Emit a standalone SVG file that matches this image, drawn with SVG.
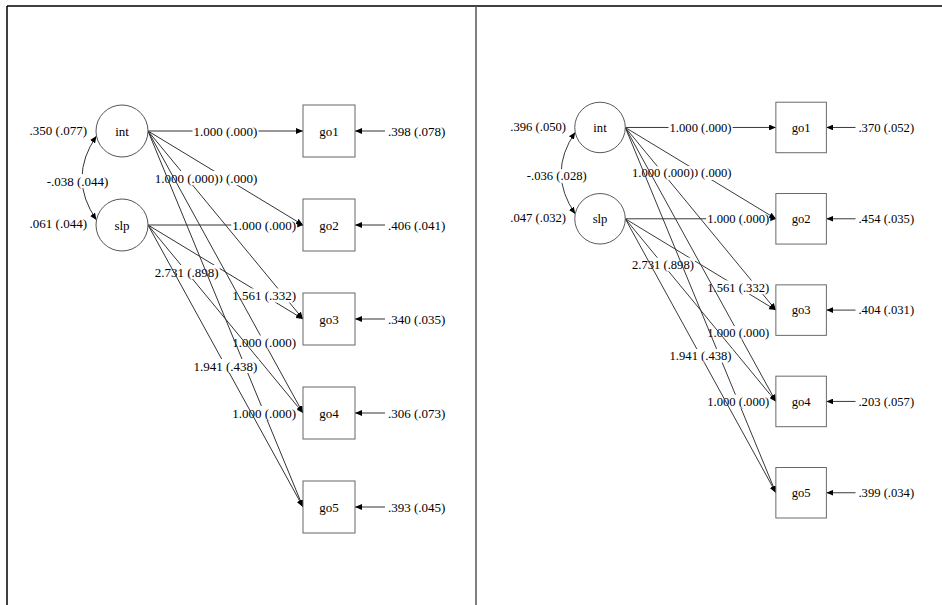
<svg xmlns="http://www.w3.org/2000/svg" width="942" height="605" viewBox="0 0 942 605">
<style>
text{font-family:"Liberation Serif","Times New Roman",serif;font-size:13px;fill:#000}
.m{text-anchor:middle}
.r{text-anchor:end}
.e{stroke:#333;stroke-width:1;fill:none;marker-end:url(#ah)}
.cv{stroke:#333;stroke-width:1;fill:none;marker-start:url(#ah2);marker-end:url(#ah2)}
.bg{fill:#fff}
.lat{fill:#fff;stroke:#555;stroke-width:1}
.obs{fill:#fff;stroke:#666;stroke-width:1}
.fr{stroke:#000;stroke-width:1.5;fill:none}
</style>
<defs>
<marker id="ah" markerUnits="userSpaceOnUse" markerWidth="8" markerHeight="6" refX="7" refY="3" orient="auto"><path d="M0,0 L7,3 L0,6 z" fill="#000"/></marker>
<marker id="ah2" markerUnits="userSpaceOnUse" markerWidth="8" markerHeight="6" refX="7" refY="3" orient="auto-start-reverse"><path d="M0,0 L7,3 L0,6 z" fill="#000"/></marker>
</defs>
<rect width="942" height="605" fill="#fff"/>
<g id="frame">
<line class="fr" x1="7" y1="6" x2="942" y2="6"/>
<line class="fr" x1="7" y1="6" x2="7" y2="605"/>
<line x1="476" y1="6" x2="476" y2="605" stroke="#555" stroke-width="1.5"/>
</g>

<g id="panel-left">
<g id="L-connectors">
<path class="cv" d="M96.5,136 Q67.5,178 96.5,220"/>
<rect class="bg" x="46" y="174" width="63" height="14"/>
<text class="m" x="77.5" y="185.5">-.038 (.044)</text>
<line class="e" x1="148" y1="131" x2="303" y2="131"/>
<rect class="bg" x="192.5" y="124" width="66" height="14"/><text class="m" x="225.5" y="135.5">1.000 (.000)</text>
<line class="e" x1="148" y1="225" x2="303" y2="225"/>
<rect class="bg" x="231.25" y="218" width="66" height="14"/><text class="m" x="264.25" y="229.5">1.000 (.000)</text>
<line class="e" x1="148" y1="131" x2="303" y2="225"/>
<rect class="bg" x="192.5" y="171" width="66" height="14"/><text class="m" x="225.5" y="182.5">1.000 (.000)</text>
<line class="e" x1="148" y1="131" x2="303" y2="319"/>
<rect class="bg" x="153.75" y="171" width="66" height="14"/><text class="m" x="186.75" y="182.5">1.000 (.000)</text>
<line class="e" x1="148" y1="225" x2="303" y2="319"/>
<rect class="bg" x="231.25" y="288.5" width="66" height="14"/><text class="m" x="264.25" y="300">1.561 (.332)</text>
<line class="e" x1="148" y1="131" x2="303" y2="413"/>
<rect class="bg" x="231.25" y="335.5" width="66" height="14"/><text class="m" x="264.25" y="347">1.000 (.000)</text>
<line class="e" x1="148" y1="225" x2="303" y2="413"/>
<rect class="bg" x="153.75" y="265" width="66" height="14"/><text class="m" x="186.75" y="276.5">2.731 (.898)</text>
<line class="e" x1="148" y1="131" x2="303" y2="507"/>
<rect class="bg" x="231.25" y="406" width="66" height="14"/><text class="m" x="264.25" y="417.5">1.000 (.000)</text>
<line class="e" x1="148" y1="225" x2="303" y2="507"/>
<rect class="bg" x="192.5" y="359" width="66" height="14"/><text class="m" x="225.5" y="370.5">1.941 (.438)</text>
<line class="e" x1="385" y1="131" x2="355" y2="131"/>
<line class="e" x1="385" y1="225" x2="355" y2="225"/>
<line class="e" x1="385" y1="319" x2="355" y2="319"/>
<line class="e" x1="385" y1="413" x2="355" y2="413"/>
<line class="e" x1="385" y1="507" x2="355" y2="507"/>
</g>
<g id="L-int"><circle class="lat" cx="122" cy="131" r="26"/><text class="m" x="122" y="135.5">int</text><text class="r" x="87" y="135">.350 (.077)</text></g>
<g id="L-slp"><circle class="lat" cx="122" cy="225" r="26"/><text class="m" x="122" y="229.5">slp</text><text class="r" x="87" y="228">.061 (.044)</text></g>
<g id="L-go1"><rect class="obs" x="303" y="105" width="52" height="52"/><text class="m" x="329" y="135.5">go1</text><text x="388" y="135.5">.398 (.078)</text></g>
<g id="L-go2"><rect class="obs" x="303" y="199" width="52" height="52"/><text class="m" x="329" y="229.5">go2</text><text x="388" y="229.5">.406 (.041)</text></g>
<g id="L-go3"><rect class="obs" x="303" y="293" width="52" height="52"/><text class="m" x="329" y="323.5">go3</text><text x="388" y="323.5">.340 (.035)</text></g>
<g id="L-go4"><rect class="obs" x="303" y="387" width="52" height="52"/><text class="m" x="329" y="417.5">go4</text><text x="388" y="417.5">.306 (.073)</text></g>
<g id="L-go5"><rect class="obs" x="303" y="481" width="52" height="52"/><text class="m" x="329" y="511.5">go5</text><text x="388" y="511.5">.393 (.045)</text></g>
</g>

<g id="panel-right" transform="translate(481.5,0.2) scale(0.9715)">
<g id="R-connectors">
<path class="cv" d="M96.5,136 Q67.5,178 96.5,220"/>
<rect class="bg" x="46" y="174" width="63" height="14"/>
<text class="m" x="77.5" y="185.5">-.036 (.028)</text>
<line class="e" x1="148" y1="131" x2="303" y2="131"/>
<rect class="bg" x="192.5" y="124" width="66" height="14"/><text class="m" x="225.5" y="135.5">1.000 (.000)</text>
<line class="e" x1="148" y1="225" x2="303" y2="225"/>
<rect class="bg" x="231.25" y="218" width="66" height="14"/><text class="m" x="264.25" y="229.5">1.000 (.000)</text>
<line class="e" x1="148" y1="131" x2="303" y2="225"/>
<rect class="bg" x="192.5" y="171" width="66" height="14"/><text class="m" x="225.5" y="182.5">1.000 (.000)</text>
<line class="e" x1="148" y1="131" x2="303" y2="319"/>
<rect class="bg" x="153.75" y="171" width="66" height="14"/><text class="m" x="186.75" y="182.5">1.000 (.000)</text>
<line class="e" x1="148" y1="225" x2="303" y2="319"/>
<rect class="bg" x="231.25" y="288.5" width="66" height="14"/><text class="m" x="264.25" y="300">1.561 (.332)</text>
<line class="e" x1="148" y1="131" x2="303" y2="413"/>
<rect class="bg" x="231.25" y="335.5" width="66" height="14"/><text class="m" x="264.25" y="347">1.000 (.000)</text>
<line class="e" x1="148" y1="225" x2="303" y2="413"/>
<rect class="bg" x="153.75" y="265" width="66" height="14"/><text class="m" x="186.75" y="276.5">2.731 (.898)</text>
<line class="e" x1="148" y1="131" x2="303" y2="507"/>
<rect class="bg" x="231.25" y="406" width="66" height="14"/><text class="m" x="264.25" y="417.5">1.000 (.000)</text>
<line class="e" x1="148" y1="225" x2="303" y2="507"/>
<rect class="bg" x="192.5" y="359" width="66" height="14"/><text class="m" x="225.5" y="370.5">1.941 (.438)</text>
<line class="e" x1="385" y1="131" x2="355" y2="131"/>
<line class="e" x1="385" y1="225" x2="355" y2="225"/>
<line class="e" x1="385" y1="319" x2="355" y2="319"/>
<line class="e" x1="385" y1="413" x2="355" y2="413"/>
<line class="e" x1="385" y1="507" x2="355" y2="507"/>
</g>
<g id="R-int"><circle class="lat" cx="122" cy="131" r="26"/><text class="m" x="122" y="135.5">int</text><text class="r" x="87" y="135">.396 (.050)</text></g>
<g id="R-slp"><circle class="lat" cx="122" cy="225" r="26"/><text class="m" x="122" y="229.5">slp</text><text class="r" x="87" y="228">.047 (.032)</text></g>
<g id="R-go1"><rect class="obs" x="303" y="105" width="52" height="52"/><text class="m" x="329" y="135.5">go1</text><text x="388" y="135.5">.370 (.052)</text></g>
<g id="R-go2"><rect class="obs" x="303" y="199" width="52" height="52"/><text class="m" x="329" y="229.5">go2</text><text x="388" y="229.5">.454 (.035)</text></g>
<g id="R-go3"><rect class="obs" x="303" y="293" width="52" height="52"/><text class="m" x="329" y="323.5">go3</text><text x="388" y="323.5">.404 (.031)</text></g>
<g id="R-go4"><rect class="obs" x="303" y="387" width="52" height="52"/><text class="m" x="329" y="417.5">go4</text><text x="388" y="417.5">.203 (.057)</text></g>
<g id="R-go5"><rect class="obs" x="303" y="481" width="52" height="52"/><text class="m" x="329" y="511.5">go5</text><text x="388" y="511.5">.399 (.034)</text></g>
</g>
</svg>
